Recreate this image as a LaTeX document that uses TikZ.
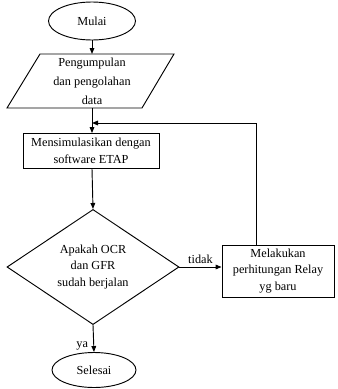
\documentclass[tikz,border=0pt]{standalone}
\usepackage{fontspec}
\setmainfont{Liberation Serif}
\usetikzlibrary{shapes.geometric,arrows.meta,calc}
\begin{document}
\begin{tikzpicture}[x=0.75pt,y=-0.75pt,
  every node/.style={font=\fontsize{9.2}{12.3}\selectfont, align=center, inner sep=0pt},
  term/.style={draw, ellipse, line width=0.7pt},
  proc/.style={draw, rectangle, line width=0.7pt},
  dec/.style={draw, diamond, line width=0.7pt},
  link/.style={line width=0.7pt},
  arr/.style={link, -{Triangle[length=4.5pt,width=3.5pt]}}]
\useasboundingbox (0,0) rectangle (337,389);
% start
\node[term, minimum width=65.25pt, minimum height=28.5pt] (mulai) at (92,21) {Mulai};
% parallelogram (input)
\coordinate (dtop) at (92,54);
\coordinate (dbot) at (92,108);
\draw[link] (40,54) -- (174,54) -- (142,108) -- (7,108) -- cycle;
\node (data) at (92,81) {Pengumpulan\\[2pt]dan pengolahan\\[2pt]data};
% process
\node[proc, minimum width=102pt, minimum height=26.25pt] (sim) at (91,151) {Mensimulasikan dengan\\software ETAP};
% decision
\node[dec, minimum width=129pt, minimum height=82.5pt] (cek) at (93,267) {Apakah OCR\\dan GFR\\sudah berjalan};
% relay
\node[proc, minimum width=84pt, minimum height=39pt] (relay) at (278,271) {Melakukan\\perhitungan Relay\\yg baru};
% end
\node[term, minimum width=63pt, minimum height=26.25pt] (selesai) at (94,370) {Selesai};
% feedback coordinates
\coordinate (fbup) at (256,123);
\coordinate (fbin) at (92,123);
% connectors
\draw[arr] (mulai.south) -- (dtop);
\draw[arr] (dbot) -- (sim.north -| dbot);
\draw[link] (relay.north -| fbup) -- (fbup);
\draw[arr] (fbup) -- (fbin);
\draw[arr] (sim.south -| dbot) -- (cek.north);
\draw[arr] (cek.east) -- (cek.east -| relay.west) node[midway, above=2pt] {tidak};
\draw[arr] (cek.south) -- (selesai.north) node[pos=0.78, left=4pt] {ya};
\end{tikzpicture}
\end{document}
